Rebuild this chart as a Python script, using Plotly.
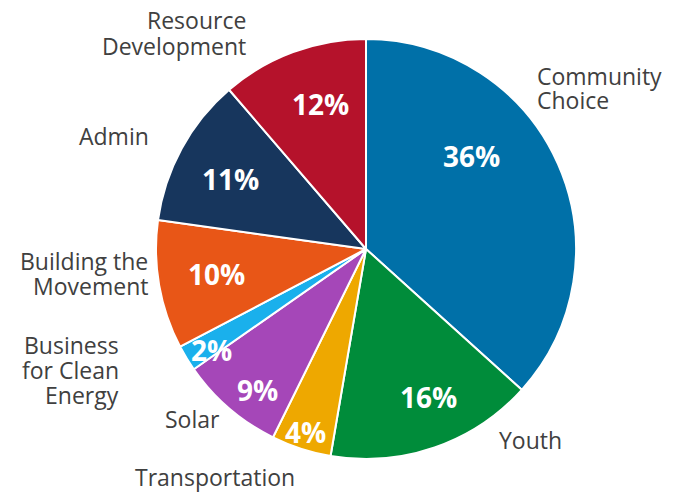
import plotly.graph_objects as go

categories = ["Community Choice", "Youth", "Transportation", "Solar",
              "Business for Clean Energy", "Building the Movement", "Admin",
              "Resource Development"]
shares = [36.7, 16.0, 4.6, 8.0, 2.0, 9.9, 11.5, 11.3]
# percentages printed on the slices
shown_pct = [36, 16, 4, 9, 2, 10, 11, 12]
colors = ["#0070A8", "#008C3A", "#EEA800", "#A547B8", "#1AB0EC", "#E85617",
          "#17365D", "#B5122B"]
label_lines = [["Community", "Choice"], ["Youth"], ["Transportation"], ["Solar"],
               ["Business", "for Clean", "Energy"], ["Building the", "Movement"],
               ["Admin"], ["Resource", "Development"]]

W, H = 680, 493

fig = go.Figure(go.Pie(
    labels=categories, values=shares, sort=False, direction="clockwise",
    rotation=0, textinfo="none", hoverinfo="label",
    marker=dict(colors=colors, line=dict(color="white", width=2)),
    domain=dict(x=[156 / W, 576 / W], y=[(H - 459) / H, (H - 39) / H]),
    showlegend=False,
))

# positions in pixels (layout only)
pct_pos = [(471, 156), (428, 397), (305, 432), (257, 390), (211, 350),
           (217, 274), (230, 179), (320, 104)]
lab_pos = [(535, 88, "left"), (497, 440, "left"), (215, 477, "center"),
           (222, 419, "right"), (121, 370, "right"), (150, 273, "right"),
           (151, 136, "right"), (248, 33, "right")]
LINE = 25

annotations = []
for v, (px, py) in zip(shown_pct, pct_pos):
    annotations.append(dict(
        x=px / W, y=1 - py / H, xref="paper", yref="paper", showarrow=False,
        text=f"<b>{v}%</b>", xanchor="center", yanchor="middle",
        font=dict(family="Open Sans", size=28, color="white")))
for lines, (px, py, al) in zip(label_lines, lab_pos):
    n = len(lines)
    for i, t in enumerate(lines):
        ly = py + (i - (n - 1) / 2) * LINE
        annotations.append(dict(
            x=px / W, y=1 - ly / H, xref="paper", yref="paper", showarrow=False,
            text=t, xanchor=al, yanchor="middle", align=al,
            font=dict(family="Open Sans", size=23, color="#404040")))

fig.update_layout(
    width=W, height=H, margin=dict(l=0, r=0, t=0, b=0),
    paper_bgcolor="white", plot_bgcolor="white",
    annotations=annotations,
)

fig.write_html("out.html", config={"displayModeBar": False},
               post_script="document.body.style.margin='0';")
